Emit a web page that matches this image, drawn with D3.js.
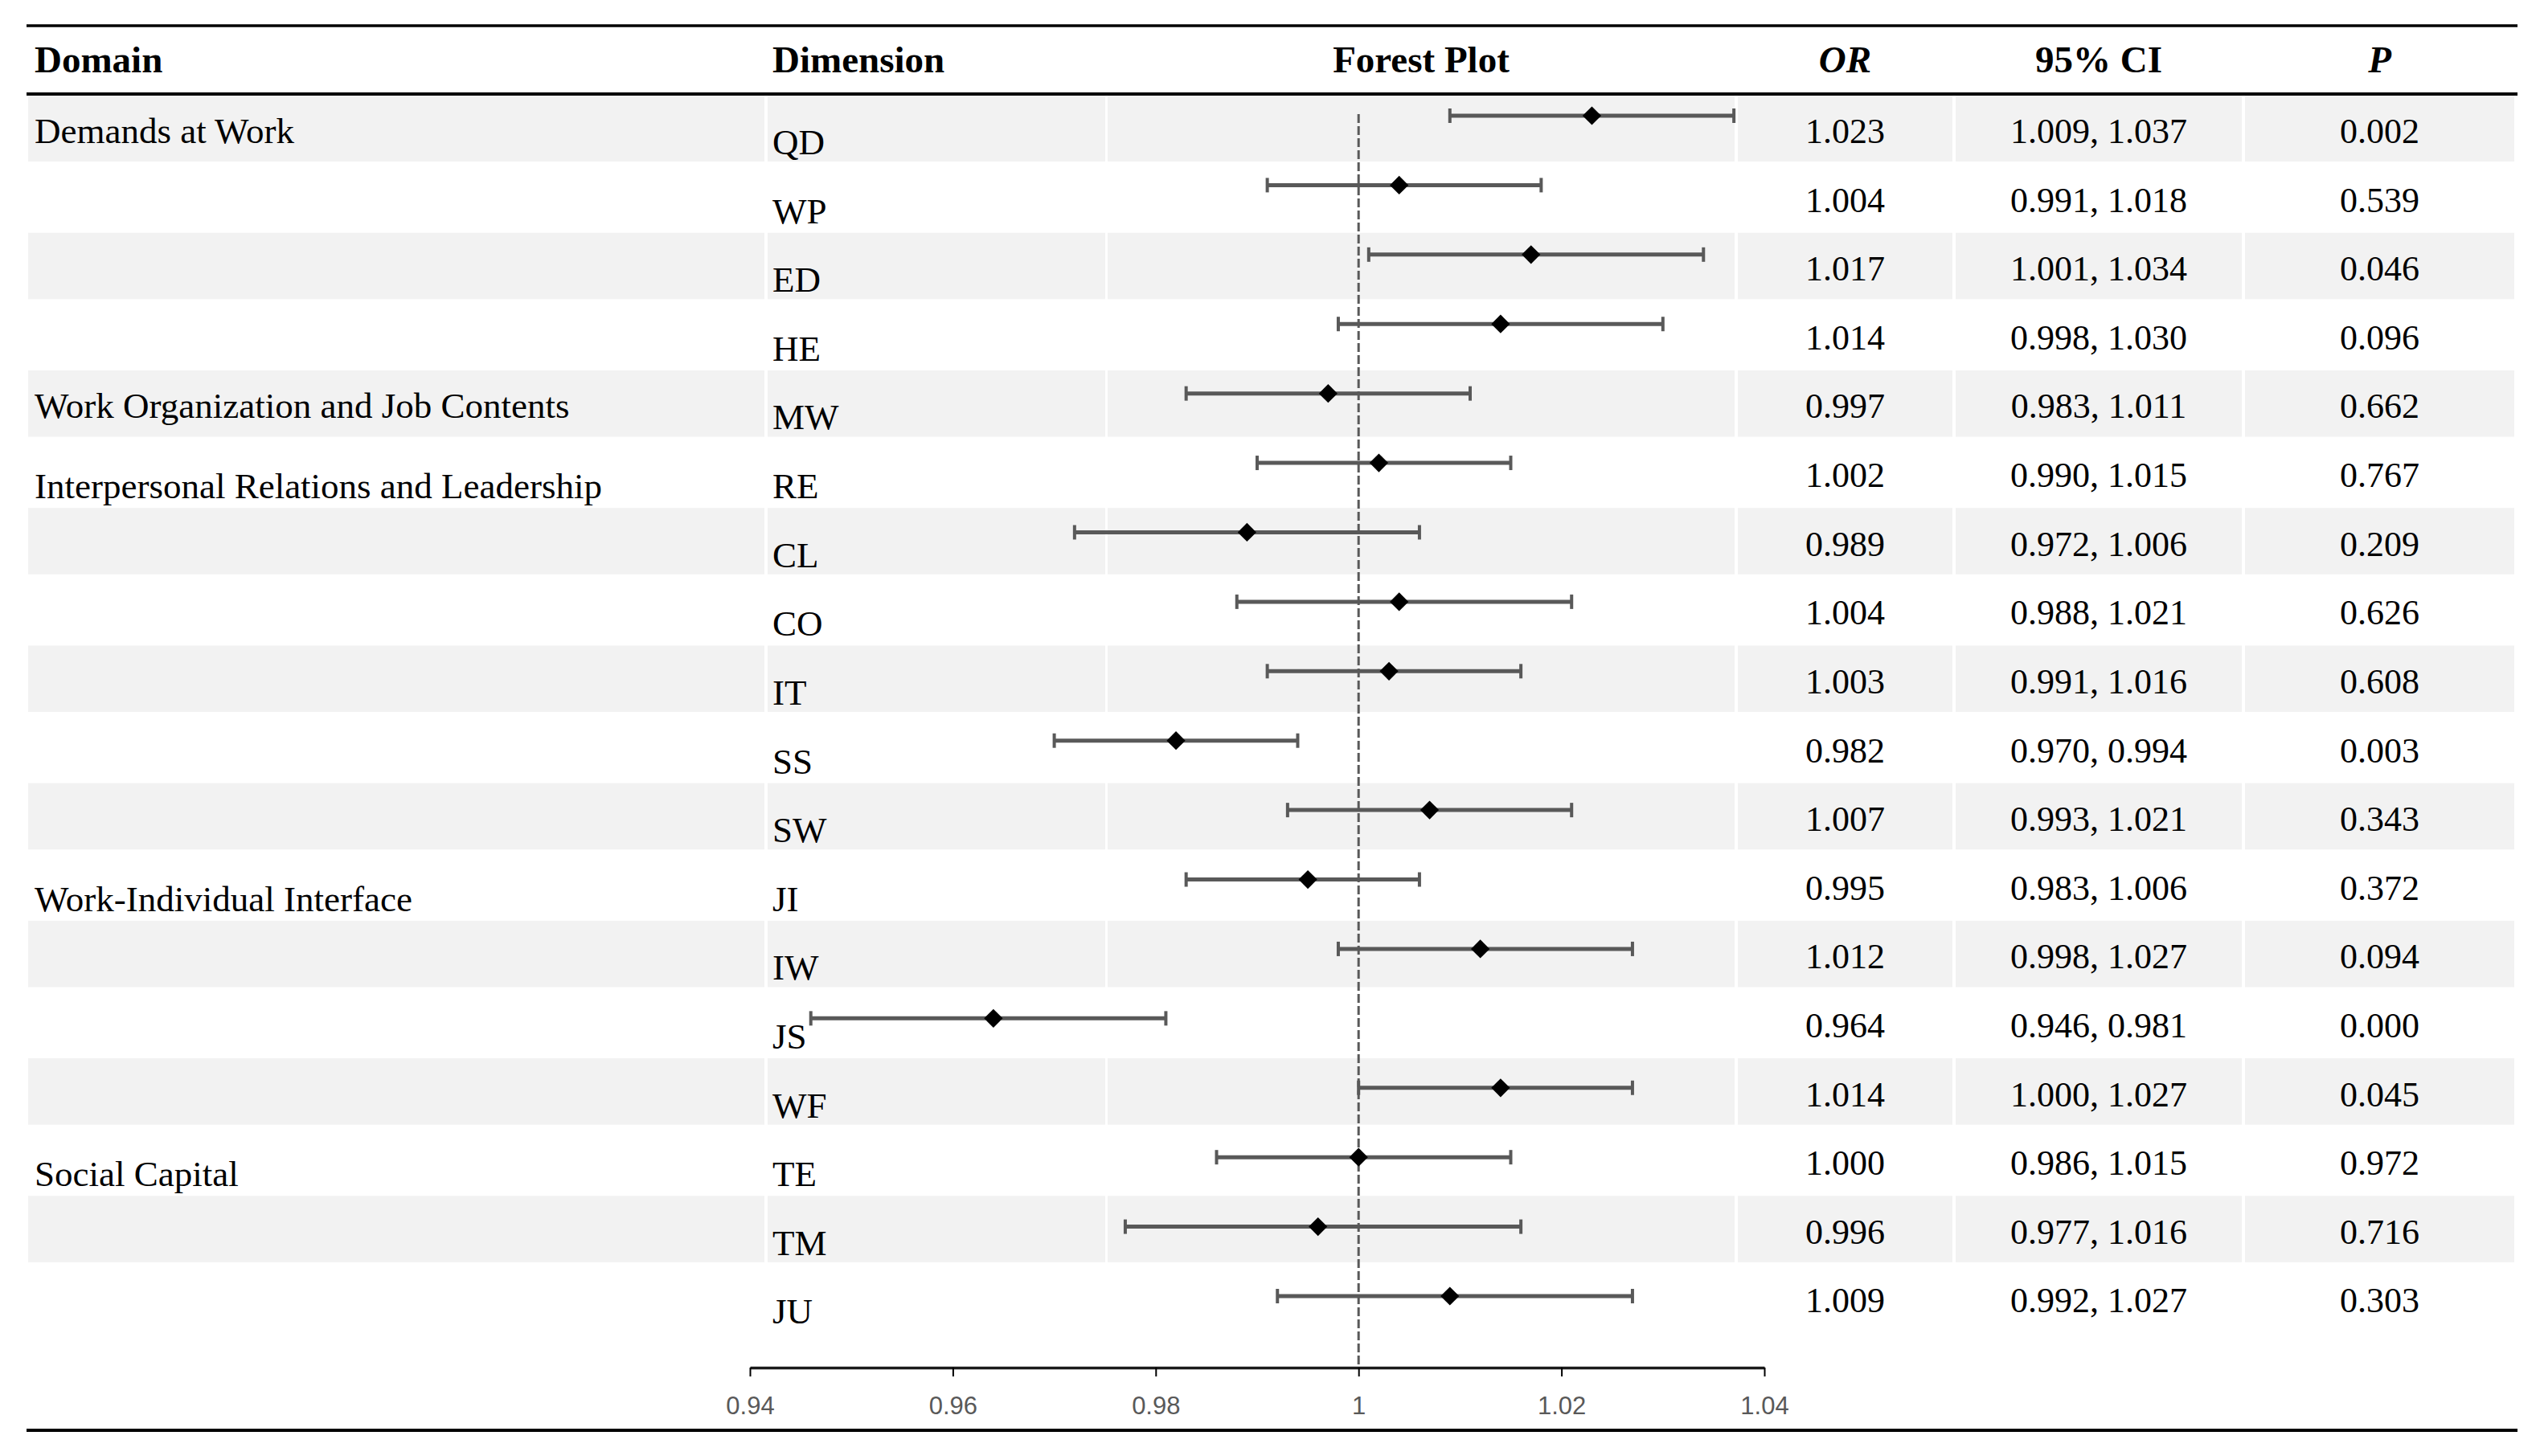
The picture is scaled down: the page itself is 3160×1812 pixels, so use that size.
<!DOCTYPE html>
<html>
<head>
<meta charset="utf-8">
<script src="https://cdn.jsdelivr.net/npm/d3@7"></script>
<style>
  html, body { margin: 0; padding: 0; background: #ffffff; }
  svg { display: block; }
</style>
</head>
<body>
<svg id="chart" width="3160" height="1812"></svg>
<script>
// ---------------- data ----------------
const domainNames = [
  "Demands at Work",
  "Work Organization and Job Contents",
  "Interpersonal Relations and Leadership",
  "Work-Individual Interface",
  "Social Capital"
];
const domainSizes = [4, 1, 6, 4, 3];
const dimensions = ["QD","WP","ED","HE","MW","RE","CL","CO","IT","SS","SW","JI","IW","JS","WF","TE","TM","JU"];
const orValues  = [1.023,1.004,1.017,1.014,0.997,1.002,0.989,1.004,1.003,0.982,1.007,0.995,1.012,0.964,1.014,1.000,0.996,1.009];
const ciLower   = [1.009,0.991,1.001,0.998,0.983,0.990,0.972,0.988,0.991,0.970,0.993,0.983,0.998,0.946,1.000,0.986,0.977,0.992];
const ciUpper   = [1.037,1.018,1.034,1.030,1.011,1.015,1.006,1.021,1.016,0.994,1.021,1.006,1.027,0.981,1.027,1.015,1.016,1.027];
const pValues   = [0.002,0.539,0.046,0.096,0.662,0.767,0.209,0.626,0.608,0.003,0.343,0.372,0.094,0.000,0.045,0.972,0.716,0.303];
const headers   = ["Domain","Dimension","Forest Plot","OR","95% CI","P"];
const xTicks    = [0.94, 0.96, 0.98, 1, 1.02, 1.04];
const refValue  = 1;

// ---------------- layout ----------------
const svg = d3.select("#chart");
const serif = "'Liberation Serif', 'Times New Roman', serif";
const sans = "'Liberation Sans', Arial, sans-serif";
const fmt3 = d3.format(".3f");

const lineLeft = 33, lineRight = 3132;
const cols = [
  {x0: 35,   x1: 951},   // Domain
  {x0: 955,  x1: 1375},  // Dimension
  {x0: 1378, x1: 2158},  // Forest
  {x0: 2162, x1: 2429},  // OR
  {x0: 2433, x1: 2789},  // CI
  {x0: 2793, x1: 3128}   // P
];

const rowY = d3.scaleBand().domain(dimensions).range([118, 1659]);
const plotY = d3.scalePoint().domain(dimensions).range([144, 1613]);
const x = d3.scaleLinear().domain([0.94, 1.04]).range([933, 2195]);
const axisY = 1702;

// domain of each row
const rowDomain = [];
domainNames.forEach((n, di) => { for (let k = 0; k < domainSizes[di]; k++) rowDomain.push(k === 0 ? n : ""); });

// ---------------- zebra bands ----------------
const bandG = svg.append("g");
dimensions.forEach((d, i) => {
  if (i % 2 !== 0) return;
  cols.forEach(c => {
    bandG.append("rect")
      .attr("x", c.x0).attr("width", c.x1 - c.x0)
      .attr("y", rowY(d) + 0.5).attr("height", rowY.bandwidth() - 3)
      .attr("fill", "#f2f2f2");
  });
});

// ---------------- rules ----------------
svg.append("line").attr("x1", lineLeft).attr("x2", lineRight).attr("y1", 32).attr("y2", 32)
  .attr("stroke", "#000").attr("stroke-width", 3.5);
svg.append("line").attr("x1", lineLeft).attr("x2", lineRight).attr("y1", 117).attr("y2", 117)
  .attr("stroke", "#000").attr("stroke-width", 4);
svg.append("line").attr("x1", lineLeft).attr("x2", lineRight).attr("y1", 1780).attr("y2", 1780)
  .attr("stroke", "#000").attr("stroke-width", 4);

// ---------------- headers ----------------
const headG = svg.append("g").attr("font-family", serif).attr("font-weight", "bold")
  .attr("font-size", 47).attr("fill", "#000");
headers.forEach((h, i) => {
  const c = cols[i];
  const left = i < 2;
  headG.append("text")
    .attr("x", left ? (i === 0 ? 43 : 961) : (c.x0 + c.x1) / 2)
    .attr("y", 90)
    .attr("text-anchor", left ? "start" : "middle")
    .attr("font-style", (h === "OR" || h === "P") ? "italic" : "normal")
    .text(h);
});

// ---------------- table text ----------------
const bodyG = svg.append("g").attr("font-family", serif).attr("fill", "#000");
dimensions.forEach((d, i) => {
  const top = rowY(d);
  if (rowDomain[i]) {
    bodyG.append("text").attr("x", 43).attr("y", top + (i % 2 === 0 ? 60 : 74))
      .attr("font-size", 45).text(rowDomain[i]);
  }
  bodyG.append("text").attr("x", 961).attr("y", top + 74).attr("font-size", 45).text(d);
  bodyG.append("text").attr("x", (cols[3].x0 + cols[3].x1) / 2).attr("y", top + 60)
    .attr("text-anchor", "middle").attr("font-size", 44).text(fmt3(orValues[i]));
  bodyG.append("text").attr("x", (cols[4].x0 + cols[4].x1) / 2).attr("y", top + 60)
    .attr("text-anchor", "middle").attr("font-size", 44)
    .text(fmt3(ciLower[i]) + ", " + fmt3(ciUpper[i]));
  bodyG.append("text").attr("x", (cols[5].x0 + cols[5].x1) / 2).attr("y", top + 60)
    .attr("text-anchor", "middle").attr("font-size", 44).text(fmt3(pValues[i]));
});

// ---------------- forest plot ----------------
const fg = svg.append("g");

// axis
const axis = d3.axisBottom(x).tickValues(xTicks).tickSize(11).tickSizeOuter(0)
  .tickFormat(d3.format(""));
const ag = fg.append("g").attr("transform", `translate(0,${axisY})`).call(axis);
ag.select(".domain").attr("stroke", "#1a1a1a").attr("stroke-width", 3.5);
ag.selectAll(".tick line").attr("stroke", "#000").attr("stroke-width", 2);
ag.selectAll(".tick text").attr("font-family", sans).attr("font-size", 31)
  .attr("fill", "#595959").attr("dy", 0).attr("y", 58);

// error bars
const eb = fg.append("g").attr("stroke", "#595959");
dimensions.forEach((d, i) => {
  const yy = plotY(d);
  eb.append("line").attr("x1", x(ciLower[i])).attr("x2", x(ciUpper[i]))
    .attr("y1", yy).attr("y2", yy).attr("stroke-width", 5);
  [ciLower[i], ciUpper[i]].forEach(v => {
    eb.append("line").attr("x1", x(v)).attr("x2", x(v))
      .attr("y1", yy - 9).attr("y2", yy + 9).attr("stroke-width", 4);
  });
});

// reference line
fg.append("line").attr("x1", x(refValue)).attr("x2", x(refValue))
  .attr("y1", 142).attr("y2", axisY)
  .attr("stroke", "#595959").attr("stroke-width", 3).attr("stroke-dasharray", "11,4");

// diamonds
const diamond = d3.symbol(d3.symbolSquare, 270);
fg.append("g").selectAll("path").data(dimensions).join("path")
  .attr("d", diamond)
  .attr("transform", (d, i) => `translate(${x(orValues[i])},${plotY(d)}) rotate(45)`)
  .attr("fill", "#000");
</script>
</body>
</html>
